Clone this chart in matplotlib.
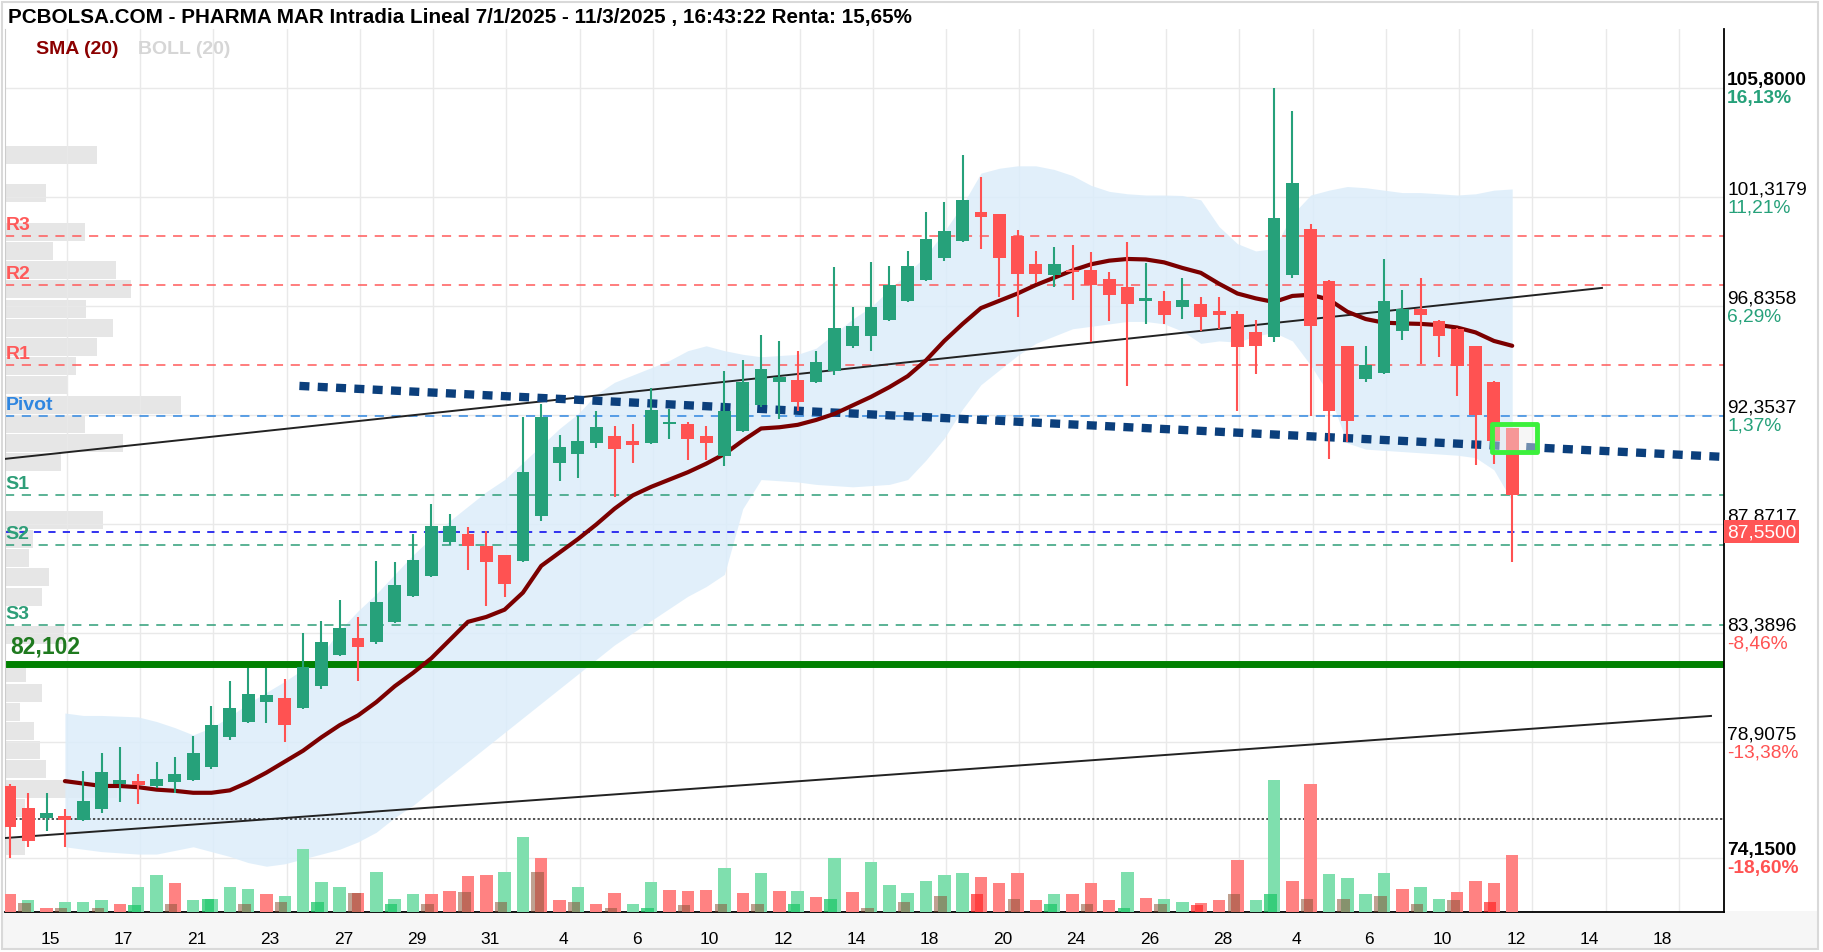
import math
import matplotlib.pyplot as plt
from matplotlib.patches import Rectangle
import numpy as np

plt.rcParams['font.family'] = ['Liberation Sans', 'DejaVu Sans']

W, H = 1823, 953

# ---- candles: two bars per session, 14/1 -> 12/3 ----
opens = [77.1, 76.2, 75.8, 75.85, 75.7, 76.15, 77.2, 77.3, 77.1, 77.26,
         77.35, 77.9, 79.1, 79.75, 80.55, 80.7, 80.3, 81.2, 82.5, 83.2,
         83.0, 83.85, 84.9, 85.75, 87.15, 87.45, 86.95, 86.6, 86.35, 88.2,
         90.4, 90.75, 91.2, 91.5, 91.3, 91.2, 92.0, 92.0, 91.5, 90.65,
         91.7, 92.75, 93.7, 93.8, 93.7, 94.15, 95.2, 95.6, 96.25, 97.05,
         97.9, 98.8, 99.5, 100.7, 100.6, 99.7, 98.55, 98.1, 98.3, 98.3,
         97.95, 97.6, 97.05, 97.05, 96.8, 96.9, 96.65, 96.5, 95.75, 95.55,
         98.1, 100.0, 97.85, 95.2, 93.85, 94.1, 95.8, 96.7, 96.2, 95.9,
         95.2, 93.7, 91.8]
highs = [77.2, 76.8, 76.8, 76.15, 77.7, 78.45, 78.7, 77.6, 78.1, 78.3,
         79.16, 80.4, 81.4, 81.95, 81.95, 81.5, 83.4, 83.9, 84.75, 84.05,
         86.35, 86.3, 87.45, 88.7, 88.3, 87.75, 87.6, 86.6, 92.27, 92.8,
         91.55, 92.3, 92.5, 91.9, 92.0, 93.45, 92.6, 92.05, 91.9, 94.15,
         94.6, 95.65, 95.4, 95.0, 95.0, 98.45, 96.8, 98.65, 98.5, 99.1,
         100.7, 101.1, 103.05, 102.15, 100.6, 99.95, 99.1, 99.25, 99.35, 99.05,
         98.25, 99.45, 98.6, 97.45, 98.0, 97.2, 97.2, 96.65, 96.25, 105.8,
         104.85, 100.2, 97.9, 95.2, 95.2, 98.75, 97.5, 98.0, 96.25, 95.95,
         95.2, 93.75, 91.8]
lows = [74.15, 74.6, 75.25, 74.6, 75.65, 76.0, 76.45, 76.35, 77.0, 76.8,
        77.3, 77.8, 79.0, 79.7, 79.7, 78.9, 80.25, 81.1, 82.45, 81.4,
        82.95, 83.8, 84.85, 85.7, 87.0, 86.0, 84.5, 84.85, 86.3, 88.0,
        89.65, 89.75, 91.0, 89.0, 90.4, 91.15, 91.35, 90.5, 90.5, 90.25,
        91.65, 92.7, 92.2, 92.5, 93.65, 94.0, 95.1, 95.0, 96.2, 97.0,
        97.85, 98.7, 99.45, 99.2, 97.2, 96.4, 97.8, 97.6, 97.1, 95.35,
        96.2, 93.55, 96.1, 96.1, 96.3, 95.8, 95.9, 92.5, 94.05, 95.35,
        98.0, 92.3, 90.55, 91.25, 93.7, 94.05, 95.45, 94.45, 94.75, 93.15,
        90.3, 90.35, 86.3]
closes = [75.4, 74.85, 76.0, 75.7, 76.5, 77.67, 77.35, 77.15, 77.4, 77.6,
          78.46, 79.6, 80.3, 80.9, 80.85, 79.6, 82.0, 83.0, 83.6, 82.8,
          84.67, 85.35, 86.4, 87.8, 87.8, 86.95, 86.3, 85.4, 90.0, 92.27,
          91.05, 91.3, 91.85, 90.95, 91.1, 92.55, 92.05, 91.35, 91.2, 92.5,
          93.7, 94.25, 93.9, 92.9, 94.55, 95.95, 96.0, 96.8, 97.7, 98.5,
          99.6, 99.9, 101.2, 100.5, 98.8, 98.15, 98.15, 98.55, 98.25, 97.7,
          97.3, 96.9, 97.15, 96.45, 97.1, 96.4, 96.45, 95.15, 95.2, 100.45,
          101.9, 96.0, 92.5, 92.1, 94.4, 97.05, 96.7, 96.45, 95.6, 94.35,
          92.35, 91.3, 89.05]
volume = [18, 12, 4, 10, 10, 12, 8, 25, 37, 29,
          12, 13, 25, 23, 18, 16, 63, 30, 25, 19,
          40, 13, 18, 18, 21, 36, 37, 40, 75, 54,
          12, 25, 8, 19, 8, 30, 22, 21, 22, 44,
          19, 39, 21, 21, 15, 54, 20, 50, 27, 19,
          31, 37, 39, 35, 29, 39, 12, 18, 18, 29,
          12, 40, 14, 13, 10, 9, 12, 52, 12, 132,
          31, 128, 38, 34, 18, 39, 23, 25, 13, 20,
          31, 29, 57]
vol_side = ('rgrgggrggr' 'ggggrggggr' 'gggrrrrggr' 'rgrrggrrrg' 'rgrgrgrggg'
            'gggrrrrgrr' 'rgrggrrrgg' 'rrggggrggr' 'rrr')
# second (session) volume layer, one per session
vol_session = [9, 4, 4, 7, 8, 13, 8, 10, 10, 19, 8, 8, 20, 10, 40, 10, 4, 4, 7, 8, 8,
               8, 13, 4, 10, 16, 18, 13, 8, 8, 4, 8, 7, 18, 18, 13, 13, 16, 8, 12, 10]
vol_session_side = 'bbbgbgbbgb' 'gbbbbbbgbb' 'bggbbbrbgb' 'gbrbgbbbbb' 'r'

# ---- indicators (start at bar 3) ----
ind_start = 3
sma20 = [77.3, 77.2, 77.1, 77.1, 77.05, 76.95, 76.9, 76.82, 76.82, 76.92,
         77.25, 77.65, 78.1, 78.55, 79.1, 79.6, 80.0, 80.55, 81.2, 81.75,
         82.35, 83.1, 83.85, 84.05, 84.35, 85.05, 86.15, 86.7, 87.25, 87.85,
         88.5, 89.05, 89.4, 89.7, 90.0, 90.35, 90.75, 91.3, 91.8, 91.85,
         91.95, 92.15, 92.4, 92.75, 93.1, 93.5, 93.95, 94.6, 95.4, 96.1,
         96.75, 97.05, 97.35, 97.7, 98.0, 98.3, 98.55, 98.7, 98.77, 98.75,
         98.63, 98.4, 98.2, 97.75, 97.35, 97.15, 97.0, 97.25, 97.3, 97.1,
         96.6, 96.3, 96.15, 96.12, 96.1, 96.05, 95.95, 95.75, 95.4, 95.2]
boll_up = [80.1, 80.0, 80.0, 79.97, 79.94, 79.75, 79.5, 79.2, 79.5, 79.95,
           80.5, 80.95, 81.4, 81.9, 82.5, 83.5, 84.3, 85.0, 85.8, 86.6,
           87.3, 88.0, 88.6, 89.2, 89.7, 90.4, 91.1, 91.8, 92.4, 93.2,
           93.7, 94.0, 94.3, 94.6, 95.0, 95.2, 95.0, 94.85, 94.75, 94.8,
           94.85, 95.1, 95.7, 96.3, 96.8, 97.5, 98.2, 98.9, 99.9, 101.0,
           102.3, 102.5, 102.6, 102.6, 102.45, 102.2, 101.8, 101.55, 101.45, 101.4,
           101.4, 101.38, 101.2, 100.1, 99.4, 99.1, 99.2, 100.6, 101.4, 101.6,
           101.75, 101.7, 101.6, 101.5, 101.5, 101.45, 101.4, 101.45, 101.6, 101.65]
boll_dn = [74.6, 74.5, 74.4, 74.35, 74.3, 74.3, 74.45, 74.6, 74.4, 74.2,
           73.95, 73.8, 73.9, 74.1, 74.3, 74.5, 74.8, 75.2, 75.8, 76.3,
           76.9, 77.5, 78.1, 78.7, 79.3, 79.9, 80.5, 81.1, 81.7, 82.3,
           82.9, 83.4, 83.9, 84.4, 84.9, 85.3, 85.8, 88.5, 89.7, 89.65,
           89.6, 89.5, 89.45, 89.4, 89.45, 89.5, 89.7, 90.5, 91.4, 92.6,
           93.6, 94.2, 94.8, 95.3, 95.6, 95.9, 96.0, 96.1, 96.2, 96.2,
           96.1, 95.8, 95.3, 95.4, 95.35, 95.6, 95.75, 95.4, 94.4, 93.2,
           91.2, 90.95, 90.9, 90.85, 90.8, 90.75, 90.7, 90.6, 90.1, 88.8]

# ---- volume profile (price bin, volume) ----
profile_price = [103.05, 101.48, 99.88, 99.1, 98.32, 97.54, 96.71, 95.93, 95.15, 94.37,
                 93.59, 92.77, 91.98, 91.2, 90.42, 88.04, 87.25, 86.47, 85.69, 84.87,
                 83.31, 81.75, 80.92, 80.14, 79.36, 78.58, 77.8, 76.98, 76.19, 74.63]
profile_vol = [92, 41, 80, 48, 111, 126, 81, 108, 92, 71,
               63, 176, 80, 118, 56, 98, 28, 24, 44, 37,
               59, 21, 37, 15, 29, 35, 41, 112, 20, 20]

# ---- levels ----
pivot_names = ['R3', 'R2', 'R1', 'Pivot', 'S1', 'S2', 'S3']
pivot_vals = [99.71, 97.70, 94.41, 92.31, 89.07, 87.01, 83.72]
support_level = 82.102
last_price = 87.55
dotted_level = 75.74
ref_price = 91.10            # base of the % column
price_ticks = [105.8, 101.3179, 96.8358, 92.3537, 87.8717, 83.3896, 78.9075, 74.15]

# hand-drawn lines: (bar, price) endpoints
trend_up = ([-0.27, 86.9], [90.55, 97.58])
trend_low = ([-0.27, 92.85], [74.96, 79.98])
trend_dots = ([15.8, 93.56], [93.55, 90.63])

day_labels = ['15', '17', '21', '23', '27', '29', '31', '4', '6', '10', '12', '14',
              '18', '20', '24', '26', '28', '4', '6', '10', '12', '14', '18']

GREEN = '#26a17a'
RED = '#ff5252'

fig = plt.figure(figsize=(W / 100, H / 100), dpi=100)
fig.patch.set_facecolor('white')

# bottom band + outer frame
fig.add_artist(Rectangle((2 / W, 3 / H), 1816 / W, 38 / H, transform=fig.transFigure,
                         facecolor='#f6f6f6', edgecolor='none', zorder=0))
fig.add_artist(Rectangle((2 / W, 3 / H), 1816 / W, 947 / H, transform=fig.transFigure,
                         facecolor='none', edgecolor='#d9d9d9', lw=1.5, zorder=5))

ax = fig.add_axes([5 / W, (H - 913) / H, 1719 / W, (913 - 30) / H])
ax.set_xlim(-0.27, 93.56)
ax.set_ylim(71.918, 108.226)
ax.set_zorder(1)

x = np.arange(len(closes))
o = np.array(opens); c = np.array(closes)
hi = np.array(highs); lo = np.array(lows)
up = c >= o
cols = np.where(up, GREEN, RED)

# grid
ax.set_yticks(price_ticks)
ax.set_yticklabels([])
grid_pos = np.arange(3.1, 94, 4)
ax.set_xticks(grid_pos, minor=True)
ax.set_xticks(2.2 + 4 * np.arange(len(day_labels)))
ax.set_xticklabels(day_labels, fontsize=12.5)
ax.tick_params(axis='both', which='both', length=0)
ax.tick_params(axis='x', pad=14)
ax.grid(True, axis='y', color='#e9e9e9', lw=1)
ax.grid(True, axis='x', which='minor', color='#e9e9e9', lw=1)
ax.set_axisbelow(True)
ax.spines['top'].set_visible(False)
ax.spines['left'].set_color('#cccccc')
ax.spines['bottom'].set_color('black')
ax.spines['right'].set_color('black')
ax.spines['bottom'].set_linewidth(1.3)
ax.spines['right'].set_linewidth(1.3)

# volume profile
ax.barh(profile_price, np.array(profile_vol) / 18.32, left=-0.27, height=0.72,
        color='#e6e6e6', zorder=0.5)

# bollinger + sma
xi = x[ind_start:]
ax.fill_between(xi, boll_dn, boll_up, color='#dcedfa', alpha=0.85, lw=0, zorder=0.8)
ax.plot(xi, sma20, color='#7b0000', lw=3, zorder=4, solid_capstyle='round')

# pivot levels
pcol = ['#ff5a5a'] * 3 + ['#2f86e0'] + ['#2e9e78'] * 3
for name, val, colr in zip(pivot_names, pivot_vals, pcol):
    ax.axhline(val, color=colr, lw=1.1, ls=(0, (6, 5)), zorder=1)
    ax.text(0.0005, val + 0.12, name, transform=ax.get_yaxis_transform(), color=colr,
            fontsize=14, fontweight='bold', va='bottom', ha='left', zorder=6)

ax.axhline(last_price, color='#2222ee', lw=1.3, ls=(0, (4, 4)), zorder=1)
ax.axhline(support_level, color='#008000', lw=5, zorder=2)
ax.text(0.003, support_level + 0.28, '82,102', transform=ax.get_yaxis_transform(),
        color='#1f7a1f', fontsize=16.5, fontweight='bold', va='bottom', zorder=6)
ax.plot([0.27, 93.56], [dotted_level] * 2, color='#222222', lw=1.1, ls=(0, (1.5, 1.5)), zorder=2)

# trend lines
ax.plot(*trend_up, color='#222222', lw=1.4, zorder=3)
ax.plot(*trend_low, color='#222222', lw=1.4, zorder=3)
ax.plot(*trend_dots, color='#0b3f7c', lw=6, ls=(0, (1.2, 1.0)), zorder=3,
        dash_capstyle='butt')

# candles
ax.vlines(x, lo, hi, colors=cols, lw=1.5, zorder=4.5)
body = np.maximum(np.abs(c - o), 0.08)
ax.bar(x, body, bottom=np.minimum(o, c), width=0.7, color=cols, zorder=5)

# last-bar marker
ax.add_patch(Rectangle((80.9, 90.83), 2.45, 1.17, facecolor=(0.93, 0.93, 0.93, 0.45),
                       edgecolor='#3cf03c', lw=3.5, joinstyle='round', zorder=6))

# volume
axv = ax.twinx()
axv.set_ylim(0, 883)
axv.set_yticks([])
for s in axv.spines.values():
    s.set_visible(False)
vcols = ['#7fdfae' if s == 'g' else '#ff8282' for s in vol_side]
axv.bar(x, volume, width=0.68, color=vcols, zorder=3)
scol = {'b': (0.55, 0.33, 0.22, 0.55), 'g': (0.12, 0.78, 0.42, 0.75), 'r': (1.0, 0.15, 0.15, 0.7)}
xs = np.arange(1, 2 * len(vol_session), 2) - 0.2
axv.bar(xs, vol_session, width=0.68, color=[scol[s] for s in vol_session_side], zorder=4)

# right-side price scale
yt = ax.get_yaxis_transform()
for p in price_ticks:
    pct = math.trunc((p / ref_price - 1) * 10000) / 100
    bold = p in (price_ticks[0], price_ticks[-1])
    fw = 'bold' if bold else 'normal'
    ax.text(1.0018, p, f'{p:.4f}'.replace('.', ','), transform=yt, fontsize=13.8,
            fontweight=fw, va='bottom', ha='left', clip_on=False)
    if abs(p - last_price) > 0.5:
        ax.text(1.0018, p - 0.05, f'{pct:.2f}%'.replace('.', ','), transform=yt,
                fontsize=13.8, fontweight=fw, color=GREEN if pct >= 0 else RED,
                va='top', ha='left', clip_on=False)
ax.text(1.0018, last_price, f'{last_price:.4f}'.replace('.', ','), transform=yt,
        fontsize=13.8, color='white', va='center', ha='left', clip_on=False, zorder=10,
        bbox=dict(boxstyle='square,pad=0.15', facecolor='#ff5555', edgecolor='none'))

# header and legend
fig.text(8 / W, 1 - 17 / H, 'PCBOLSA.COM - PHARMA MAR Intradia Lineal 7/1/2025 - 11/3/2025 , 16:43:22 Renta: 15,65%',
         fontsize=14.9, fontweight='bold', va='center', ha='left')
fig.text(36 / W, 1 - 50 / H, 'SMA (20)', fontsize=14, fontweight='bold', color='#8b0000',
         va='center')
fig.text(138 / W, 1 - 50 / H, 'BOLL (20)', fontsize=14, fontweight='bold', color='#d6d6d6',
         va='center')

fig.savefig('out.png', dpi=100)
